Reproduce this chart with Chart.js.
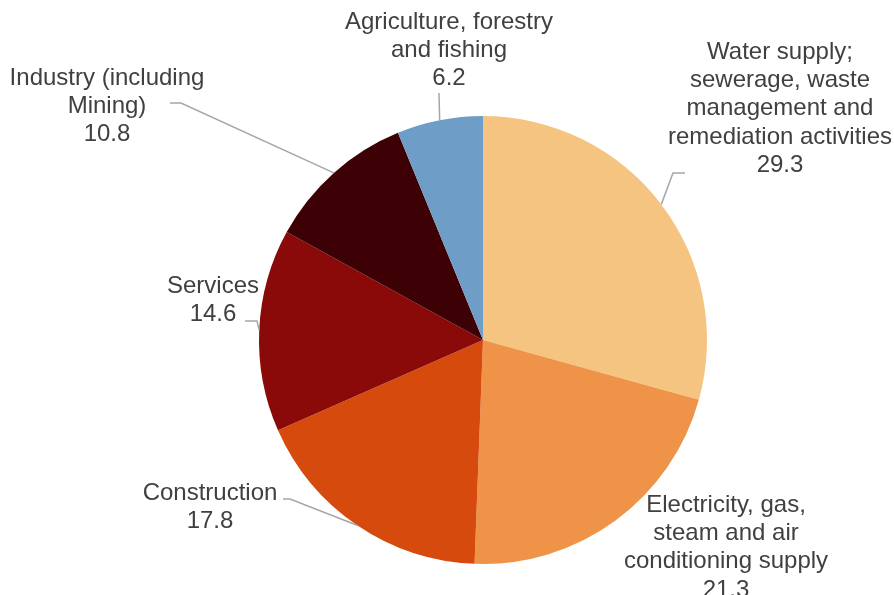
<!DOCTYPE html>
<html>
<head>
<meta charset="utf-8">
<script src="https://cdn.jsdelivr.net/npm/chart.js@4/dist/chart.umd.min.js"></script>
<style>
  html, body { margin: 0; padding: 0; background: #fff; }
  #wrap { width: 894px; height: 595px; }
</style>
</head>
<body>
<div id="wrap"><canvas id="pieChart" width="894" height="595"></canvas></div>
<script>
// Categories (in drawing order, clockwise from 12 o'clock)
const categories = [
  ["Water supply;", "sewerage, waste", "management and", "remediation activities"],
  ["Electricity, gas,", "steam and air", "conditioning supply"],
  ["Construction"],
  ["Services"],
  ["Industry (including", "Mining)"],
  ["Agriculture, forestry", "and fishing"]
];
const values = [29.3, 21.3, 17.8, 14.6, 10.8, 6.2];
const colors = ["#F4C480", "#EE9347", "#D64B0D", "#8A0A09", "#3C0005", "#6E9DC8"];

// label placement (text centre x, first line y, leader elbow, horizontal end)
const labelLayout = [
  { x: 780, y: 52, elbow: [673, 173], end: [685, 173] },
  { x: 726, y: 505, elbow: null, end: null },
  { x: 210, y: 493, elbow: [290, 499], end: [283, 499] },
  { x: 213, y: 286, elbow: [257, 321], end: [245, 321] },
  { x: 107, y: 78, elbow: [181, 103], end: [170, 103] },
  { x: 449, y: 22, elbow: [439, 93], end: [439, 93] }
];

const outsideLabels = {
  id: "outsideLabels",
  afterDatasetsDraw(chart) {
    const ctx = chart.ctx;
    const meta = chart.getDatasetMeta(0);
    ctx.save();
    meta.data.forEach((arc, i) => {
      const lay = labelLayout[i];
      // leader line from the slice edge to the label
      if (lay.elbow) {
        const mid = (arc.startAngle + arc.endAngle) / 2;
        const ax = arc.x + Math.cos(mid) * arc.outerRadius;
        const ay = arc.y + Math.sin(mid) * arc.outerRadius;
        ctx.strokeStyle = "#A6A6A6";
        ctx.lineWidth = 1.5;
        ctx.beginPath();
        ctx.moveTo(ax, ay);
        ctx.lineTo(lay.elbow[0], lay.elbow[1]);
        ctx.lineTo(lay.end[0], lay.end[1]);
        ctx.stroke();
      }
      // text
      const lines = categories[i].concat([values[i].toFixed(1)]);
      ctx.fillStyle = "#404040";
      ctx.font = "24px 'Liberation Sans', Arial, sans-serif";
      ctx.textAlign = "center";
      ctx.textBaseline = "middle";
      lines.forEach((t, k) => {
        ctx.fillText(t, lay.x, lay.y + k * 28.3);
      });
    });
    ctx.restore();
  }
};

const ctx = document.getElementById("pieChart").getContext("2d");

const pieChart = new Chart(ctx, {
  type: "pie",
  data: {
    labels: categories,
    datasets: [
      {
        data: values,
        backgroundColor: colors,
        borderWidth: 0,
      },
    ],
  },
  options: {
    responsive: false,
    animation: false,
    layout: {
      padding: { left: 259, right: 187, top: 116, bottom: 31 },
    },
    plugins: {
      legend: { display: false },
      tooltip: { enabled: false },
    },
  },
  plugins: [outsideLabels],
});
</script>
</body>
</html>
